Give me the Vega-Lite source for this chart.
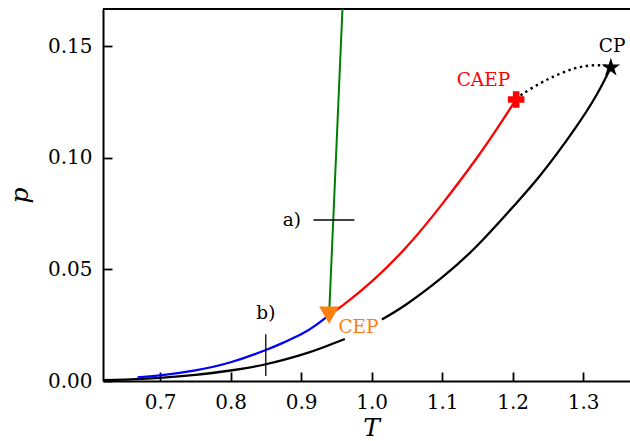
{
  "$schema": "https://vega.github.io/schema/vega-lite/v6.json",
  "width": 527,
  "height": 372,
  "autosize": {"type": "none"},
  "padding": {"left": 103, "top": 9, "right": 0, "bottom": 60},
  "background": "white",
  "view": {"stroke": null},
  "config": {
    "font": "DejaVu Serif",
    "axis": {"grid": false, "labelFont": "DejaVu Serif", "titleFont": "DejaVu Serif", "labelColor": "black", "titleColor": "black", "domainColor": "black", "tickColor": "black"}
  },
  "datasets": {
    "curves": [
      {"curve": "black", "seg": 1, "T": 0.62, "p": 0.0004},
      {"curve": "black", "seg": 1, "T": 0.65, "p": 0.0006},
      {"curve": "black", "seg": 1, "T": 0.70, "p": 0.0014},
      {"curve": "black", "seg": 1, "T": 0.75, "p": 0.0027},
      {"curve": "black", "seg": 1, "T": 0.80, "p": 0.0047},
      {"curve": "black", "seg": 1, "T": 0.85, "p": 0.0075},
      {"curve": "black", "seg": 1, "T": 0.90, "p": 0.0117},
      {"curve": "black", "seg": 1, "T": 0.93, "p": 0.0149},
      {"curve": "black", "seg": 1, "T": 0.962, "p": 0.0188},
      {"curve": "black", "seg": 2, "T": 1.0145, "p": 0.0275},
      {"curve": "black", "seg": 2, "T": 1.05, "p": 0.0345},
      {"curve": "black", "seg": 2, "T": 1.10, "p": 0.0464},
      {"curve": "black", "seg": 2, "T": 1.15, "p": 0.0607},
      {"curve": "black", "seg": 2, "T": 1.20, "p": 0.0778},
      {"curve": "black", "seg": 2, "T": 1.239, "p": 0.0920},
      {"curve": "black", "seg": 2, "T": 1.2862, "p": 0.1120},
      {"curve": "black", "seg": 2, "T": 1.3194, "p": 0.1283},
      {"curve": "black", "seg": 2, "T": 1.3393, "p": 0.1404},
      {"curve": "blue", "seg": 1, "T": 0.668, "p": 0.0016},
      {"curve": "blue", "seg": 1, "T": 0.70, "p": 0.0025},
      {"curve": "blue", "seg": 1, "T": 0.75, "p": 0.0048},
      {"curve": "blue", "seg": 1, "T": 0.80, "p": 0.0084},
      {"curve": "blue", "seg": 1, "T": 0.85, "p": 0.0139},
      {"curve": "blue", "seg": 1, "T": 0.875, "p": 0.0172},
      {"curve": "blue", "seg": 1, "T": 0.90, "p": 0.0209},
      {"curve": "blue", "seg": 1, "T": 0.92, "p": 0.0248},
      {"curve": "blue", "seg": 1, "T": 0.9397, "p": 0.0295},
      {"curve": "red", "seg": 1, "T": 0.9397, "p": 0.0295},
      {"curve": "red", "seg": 1, "T": 0.96, "p": 0.0341},
      {"curve": "red", "seg": 1, "T": 1.0, "p": 0.0445},
      {"curve": "red", "seg": 1, "T": 1.05, "p": 0.0602},
      {"curve": "red", "seg": 1, "T": 1.10, "p": 0.0792},
      {"curve": "red", "seg": 1, "T": 1.15, "p": 0.1002},
      {"curve": "red", "seg": 1, "T": 1.18, "p": 0.1140},
      {"curve": "red", "seg": 1, "T": 1.205, "p": 0.1261},
      {"curve": "dotted", "seg": 1, "T": 1.205, "p": 0.1261},
      {"curve": "dotted", "seg": 1, "T": 1.2153, "p": 0.1288},
      {"curve": "dotted", "seg": 1, "T": 1.239, "p": 0.1333},
      {"curve": "dotted", "seg": 1, "T": 1.2627, "p": 0.1370},
      {"curve": "dotted", "seg": 1, "T": 1.2862, "p": 0.1398},
      {"curve": "dotted", "seg": 1, "T": 1.31, "p": 0.1413},
      {"curve": "dotted", "seg": 1, "T": 1.3336, "p": 0.1412},
      {"curve": "dotted", "seg": 1, "T": 1.3393, "p": 0.1404},
      {"curve": "green", "seg": 1, "T": 0.9397, "p": 0.0295},
      {"curve": "green", "seg": 1, "T": 0.9605, "p": 0.18}
    ],
    "frame": [{"p": 0.1666}],
    "rules": [
      {"name": "a", "T": 0.9175, "T2": 0.9756, "p": 0.0721, "p2": 0.0721},
      {"name": "b", "T": 0.8499, "T2": 0.8499, "p": 0.0022, "p2": 0.0209}
    ],
    "points": [
      {"name": "CEP", "T": 0.9397, "p": 0.0295},
      {"name": "CAEP", "T": 1.205, "p": 0.1261},
      {"name": "CP", "T": 1.3393, "p": 0.1404}
    ],
    "labels": [
      {"text": "CP", "T": 1.3411, "p": 0.150},
      {"text": "CAEP", "T": 1.1586, "p": 0.1350},
      {"text": "CEP", "T": 0.9813, "p": 0.0242},
      {"text": "a)", "T": 0.8868, "p": 0.0721},
      {"text": "b)", "T": 0.8500, "p": 0.0303}
    ]
  },
  "encoding": {
    "x": {"field": "T", "type": "quantitative", "scale": {"domain": [0.619, 1.3665], "nice": false, "zero": false},
      "axis": {"values": [0.7, 0.8, 0.9, 1.0, 1.1, 1.2, 1.3], "format": ".1f", "title": "T", "titleFontStyle": "italic", "titleFontWeight": "normal", "titleFontSize": 25, "titleX": 268, "titleY": 54, "titleBaseline": "alphabetic", "titleAlign": "center", "labelFontSize": 20, "tickSize": -9, "tickWidth": 1.8, "domainWidth": 2, "labelPadding": 20, "labelBaseline": "top", "labelFlush": false}},
    "y": {"field": "p", "type": "quantitative", "scale": {"domain": [0, 0.1666], "nice": false, "zero": false},
      "axis": {"values": [0, 0.05, 0.1, 0.15], "format": ".2f", "title": "p", "titleFontStyle": "italic", "titleFontWeight": "normal", "titleFontSize": 25, "titleAngle": -90, "titleX": -76, "titleY": 186, "titleBaseline": "alphabetic", "titleAlign": "center", "labelFontSize": 20, "tickSize": -9, "tickWidth": 1.8, "domainWidth": 2, "labelPadding": 20, "labelFlush": false}}
  },
  "layer": [
    {
      "data": {"name": "frame"},
      "mark": {"type": "rule", "color": "black", "strokeWidth": 2},
      "encoding": {"x": null}
    },
    {
      "data": {"name": "curves"},
      "transform": [{"filter": "datum.curve === 'green'"}],
      "mark": {"type": "line", "color": "#008000", "strokeWidth": 2, "clip": true},
      "encoding": {}
    },
    {
      "data": {"name": "curves"},
      "transform": [{"filter": "datum.curve === 'black'"}],
      "mark": {"type": "line", "color": "black", "strokeWidth": 2.3, "interpolate": "natural"},
      "encoding": {"detail": {"field": "seg", "type": "nominal"}}
    },
    {
      "data": {"name": "curves"},
      "transform": [{"filter": "datum.curve === 'blue'"}],
      "mark": {"type": "line", "color": "#0000ff", "strokeWidth": 2.3, "interpolate": "natural"},
      "encoding": {}
    },
    {
      "data": {"name": "curves"},
      "transform": [{"filter": "datum.curve === 'red'"}],
      "mark": {"type": "line", "color": "#ff0000", "strokeWidth": 2.3, "interpolate": "natural"},
      "encoding": {}
    },
    {
      "data": {"name": "curves"},
      "transform": [{"filter": "datum.curve === 'dotted'"}],
      "mark": {"type": "line", "color": "black", "strokeWidth": 2.4, "interpolate": "natural", "strokeDash": [2.4, 3.6]},
      "encoding": {}
    },
    {
      "data": {"name": "rules"},
      "mark": {"type": "rule", "color": "black", "strokeWidth": 1.3},
      "encoding": {
        "x2": {"field": "T2"},
        "y2": {"field": "p2"}
      }
    },
    {
      "data": {"name": "points"},
      "transform": [{"filter": "datum.name === 'CEP'"}],
      "mark": {"type": "point", "shape": "triangle-down", "filled": true, "color": "#ff7f0e", "size": 400, "opacity": 1},
      "encoding": {}
    },
    {
      "data": {"name": "points"},
      "transform": [{"filter": "datum.name === 'CAEP'"}],
      "mark": {"type": "point", "shape": "cross", "filled": true, "color": "#ff0000", "size": 270, "opacity": 1},
      "encoding": {}
    },
    {
      "data": {"name": "points"},
      "transform": [{"filter": "datum.name === 'CP'"}],
      "mark": {"type": "point", "shape": "M0,-1L0.2245,-0.309L0.9511,-0.309L0.3633,0.118L0.5878,0.809L0,0.382L-0.5878,0.809L-0.3633,0.118L-0.9511,-0.309L-0.2245,-0.309Z", "filled": true, "color": "black", "size": 380, "opacity": 1},
      "encoding": {}
    },
    {
      "data": {"name": "labels"},
      "mark": {"type": "text", "font": "DejaVu Serif", "fontSize": 18.5, "align": "center", "baseline": "middle"},
      "encoding": {
        "text": {"field": "text"},
        "color": {"field": "text", "type": "nominal", "legend": null,
          "scale": {"domain": ["CP", "CAEP", "CEP", "a)", "b)"], "range": ["black", "#ff0000", "#ff7f0e", "black", "black"]}}
      }
    }
  ]
}
